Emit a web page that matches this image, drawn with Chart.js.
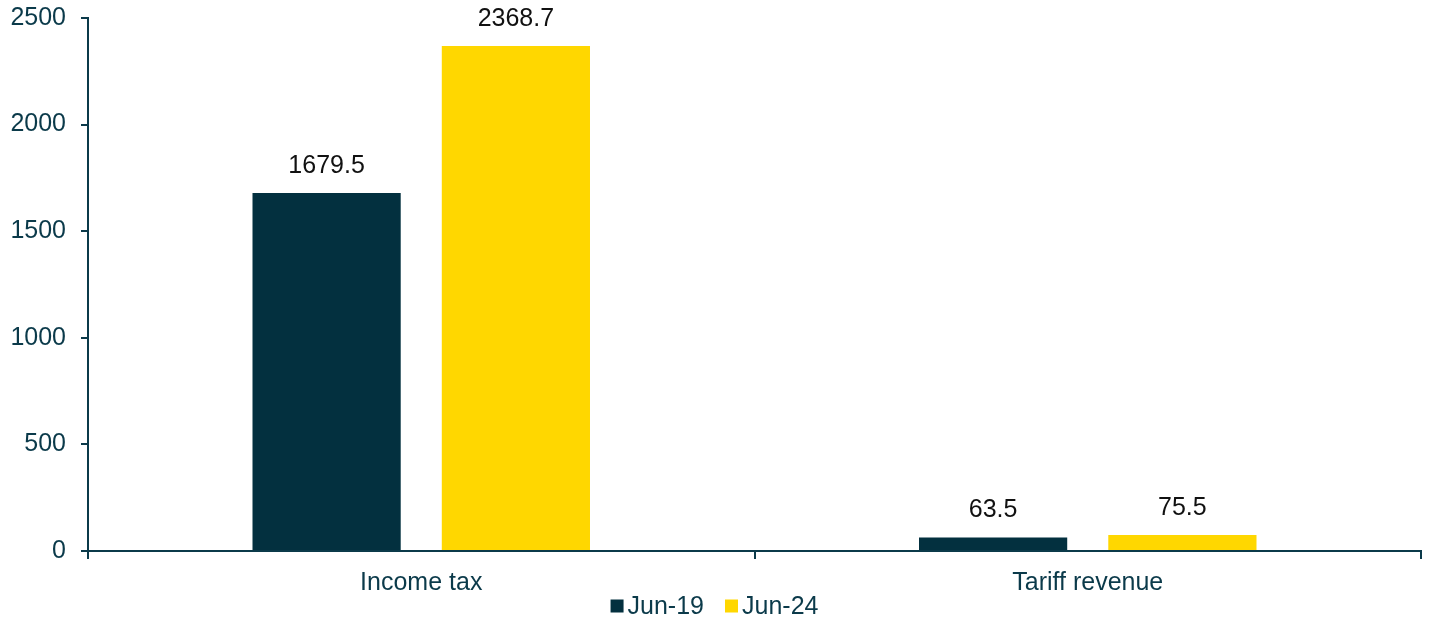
<!DOCTYPE html>
<html>
<head>
<meta charset="utf-8">
<script src="https://cdn.jsdelivr.net/npm/chart.js@4.4.1/dist/chart.umd.min.js"></script>
<style>
  html, body { margin: 0; padding: 0; background: #fff; }
  .wrap { width: 1429px; height: 621px; position: relative; }
</style>
</head>
<body>
<div class="wrap"><canvas id="chart"></canvas></div>
<script>
// chart data
const categories = ['Income tax', 'Tariff revenue'];
const jun19 = [1679.5, 63.5];
const jun24 = [2368.7, 75.5];
const seriesNames = ['Jun-19', 'Jun-24'];

const axisColor = '#0B3A4A';
const font = 'Liberation Sans, Arial, sans-serif';

// value labels above bars
const barLabels = {
  id: 'barLabels',
  afterDatasetsDraw(chart) {
    const ctx = chart.ctx;
    ctx.save();
    ctx.font = '25px ' + font;
    ctx.fillStyle = '#111';
    ctx.textAlign = 'center';
    ctx.textBaseline = 'middle';
    chart.data.datasets.forEach((ds, i) => {
      chart.getDatasetMeta(i).data.forEach((bar, j) => {
        ctx.fillText(ds.data[j].toFixed(1), bar.x, bar.y - 27);
      });
    });
    ctx.restore();
  }
};

// legend drawn by hand so the box/text spacing is tight
const bottomLegend = {
  id: 'bottomLegend',
  afterDraw(chart) {
    const ctx = chart.ctx;
    const box = 13, gapText = 4, gapItem = 21, y = 606;
    ctx.save();
    ctx.font = '25px ' + font;
    ctx.textBaseline = 'middle';
    const items = chart.data.datasets.map(ds => ({ label: ds.label, color: ds.backgroundColor, w: ctx.measureText(ds.label).width }));
    let total = 0;
    items.forEach((it, i) => { total += box + gapText + it.w + (i ? gapItem : 0); });
    let x = chart.width / 2 - total / 2;
    items.forEach(it => {
      ctx.fillStyle = it.color;
      ctx.fillRect(x, y - box / 2, box, box);
      ctx.fillStyle = axisColor;
      ctx.fillText(it.label, x + box + gapText, y + 1);
      x += box + gapText + it.w + gapItem;
    });
    ctx.restore();
  }
};

new Chart(document.getElementById('chart'), {
  type: 'bar',
  data: {
    labels: categories,
    datasets: [
      { label: seriesNames[0], data: jun19, backgroundColor: '#03303F' },
      { label: seriesNames[1], data: jun24, backgroundColor: '#FFD700' }
    ]
  },
  options: {
    responsive: true,
    maintainAspectRatio: false,
    animation: false,
    layout: { padding: { top: 18, right: 8, left: 0, bottom: 14 } },
    datasets: { bar: { categoryPercentage: 0.568, barPercentage: 0.783 } },
    plugins: {
      legend: { display: false },
      tooltip: { enabled: false }
    },
    scales: {
      x: {
        grid: { offset: true, drawOnChartArea: false, color: axisColor, lineWidth: 2, tickLength: 8 },
        border: { color: axisColor, width: 2 },
        ticks: { color: axisColor, font: { family: font, size: 25 }, padding: 9 }
      },
      y: {
        min: 0, max: 2500,
        afterFit(scale) {
          scale.width = 88;
          // don't let the label padding push the plot area in
          scale.paddingTop = 0;
          scale.paddingBottom = 0;
        },
        grid: { drawOnChartArea: false, color: axisColor, lineWidth: 2, tickLength: 7 },
        border: { color: axisColor, width: 2 },
        ticks: {
          stepSize: 500, color: axisColor, font: { family: font, size: 25 }, padding: 15,
          callback: v => String(v)
        }
      }
    }
  },
  plugins: [barLabels, bottomLegend]
});
</script>
</body>
</html>
